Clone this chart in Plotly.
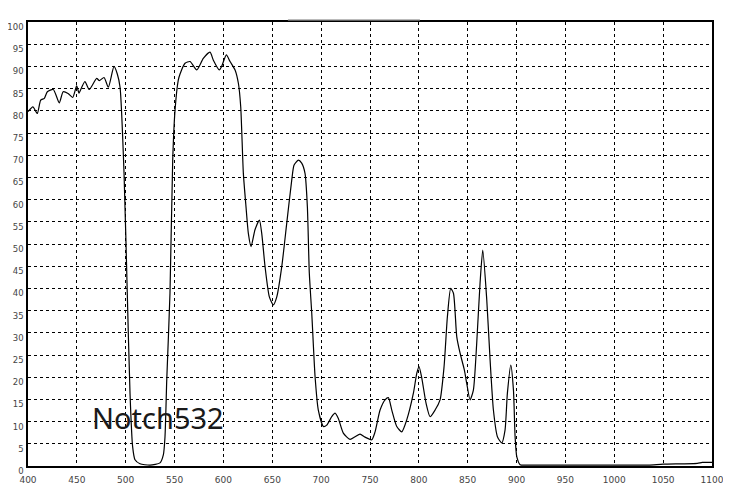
import plotly.graph_objects as go

# wavelength (nm) and transmittance (%)
wavelength = [
    400, 405, 409.5, 413, 416.7, 419.8, 425.9, 432, 436, 441, 445.7, 449.8, 452.2, 455,
    458.3, 462.7, 470.3, 473, 477.8, 482.2, 488, 491.4, 494.2, 498.3, 501.6, 504.4,
    507.1, 509.5, 514.6, 524.9, 535.1, 538.5, 540.2, 542, 545.3, 548.1, 550.5, 553.8,
    555.6, 560.7, 565.8, 572.7, 579.4, 586.3, 589.7, 595.8, 598.2, 603, 606.8, 611.9,
    615.3, 617.7, 620.4, 623.1, 625.5, 628.3, 632.3, 636.8, 639.2, 642.6, 647, 651.1,
    654.6, 659.7, 664.8, 669.9, 672.3, 676.7, 680.1, 683.5, 685.9, 687.9, 690.4, 693.8,
    697.1, 702.3, 705.7, 710.8, 714.2, 717.6, 722.7, 729.6, 734.7, 739.8, 744.9, 751.8,
    755.2, 760.3, 765.4, 768.8, 772.3, 777.4, 782.5, 787.6, 794.4, 797.9, 800.2, 803,
    807.4, 811.5, 816.6, 821.7, 825.8, 829.2, 832.6, 835.4, 838.8, 842.2, 846.6, 849,
    852.4, 855.8, 859.2, 862.6, 865.4, 869.5, 872.9, 876.3, 880.4, 884.8, 888.2, 890.6,
    894.1, 896.8, 898.5, 900.2, 903.6, 910, 950, 1000, 1035, 1050, 1085, 1090, 1100,
]
transmittance = [
    79.8, 80.9, 79.4, 82.4, 82.8, 84.3, 84.8, 81.8, 84.3, 83.9, 83.0, 85.6, 84.0, 85.3,
    86.6, 84.8, 87.3, 86.8, 87.5, 85.3, 90.0, 88.3, 85.3, 65.9, 38.9, 16.4,
    4.3, 1.4, 0.5, 0.2, 0.7, 2.5, 6.6, 19.4, 38.9, 68.9, 80.2, 86.9,
    88.3, 90.7, 91.1, 89.2, 91.8, 93.2, 91.4, 89.2, 90.0, 92.6, 91.1, 89.2,
    86.2, 80.9, 65.9, 58.4, 52.4, 49.4, 53.2, 55.4, 52.4, 44.9, 38.1, 36.3,
    38.1, 44.9, 54.7, 64.4, 67.8, 68.9, 68.2, 65.9, 58.4, 43.4, 34.4, 20.1,
    12.6, 8.9, 9.2, 11.1, 11.9, 10.7, 7.4, 6.0, 6.6, 7.2, 6.5, 5.9,
    7.7, 12.6, 14.9, 15.4, 12.6, 8.9, 7.7, 10.4, 16.4, 20.9, 22.4, 19.8,
    14.1, 11.1, 12.6, 14.9, 22.4, 33.6, 40.0, 38.9, 29.1, 25.4, 21.6, 18.6,
    14.9, 17.1, 27.6, 41.1, 48.6, 37.4, 23.9, 12.6, 6.6, 5.2, 8.1, 16.4,
    22.7, 17.1, 6.6, 2.1, 0.3, 0.2, 0.2, 0.2, 0.2, 0.4, 0.6, 0.8, 0.8,
]

x_ticks = list(range(400, 1101, 50))
y_ticks = list(range(0, 101, 5))
label = "Notch532"

fig = go.Figure()
fig.add_trace(go.Scatter(
    x=wavelength, y=transmittance, mode="lines",
    line=dict(color="black", width=1.2, shape="spline", smoothing=0.6),
    showlegend=False, hoverinfo="skip",
))

grid = dict(showgrid=True, gridcolor="black", gridwidth=1, griddash="3px,3px",
            showline=True, linecolor="black", linewidth=1.5, mirror=True,
            zeroline=False, ticks="", automargin=False)

fig.update_xaxes(range=[400, 1100], tickvals=x_ticks, ticklabelstandoff=4,
                 tickfont=dict(family="DejaVu Sans", size=9, color="#444"), **grid)
fig.update_yaxes(range=[0, 100], tickvals=y_ticks, ticklabelstandoff=1,
                 ticklabelshift=5,
                 tickfont=dict(family="DejaVu Sans", size=8.5, color="#444"), **grid)

fig.add_annotation(x=0.091, y=0.11, xref="paper", yref="paper", text=label,
                   showarrow=False, xanchor="left", yanchor="middle",
                   font=dict(family="Noto Sans", size=29, color="#1a1a1a"))

# faint grey stroke just above the frame (left over from the original title)
fig.add_shape(type="line", xref="paper", yref="paper",
              x0=0.38, x1=0.573, y0=1.005, y1=1.005,
              line=dict(color="#bbbbbb", width=1.5))

# page body keeps an 8px margin, so the figure is sized to fit inside the window
fig.update_layout(
    width=723, height=483,
    margin=dict(l=20, r=19, t=14, b=25),
    paper_bgcolor="white", plot_bgcolor="white",
)

fig.write_html("out.html")
